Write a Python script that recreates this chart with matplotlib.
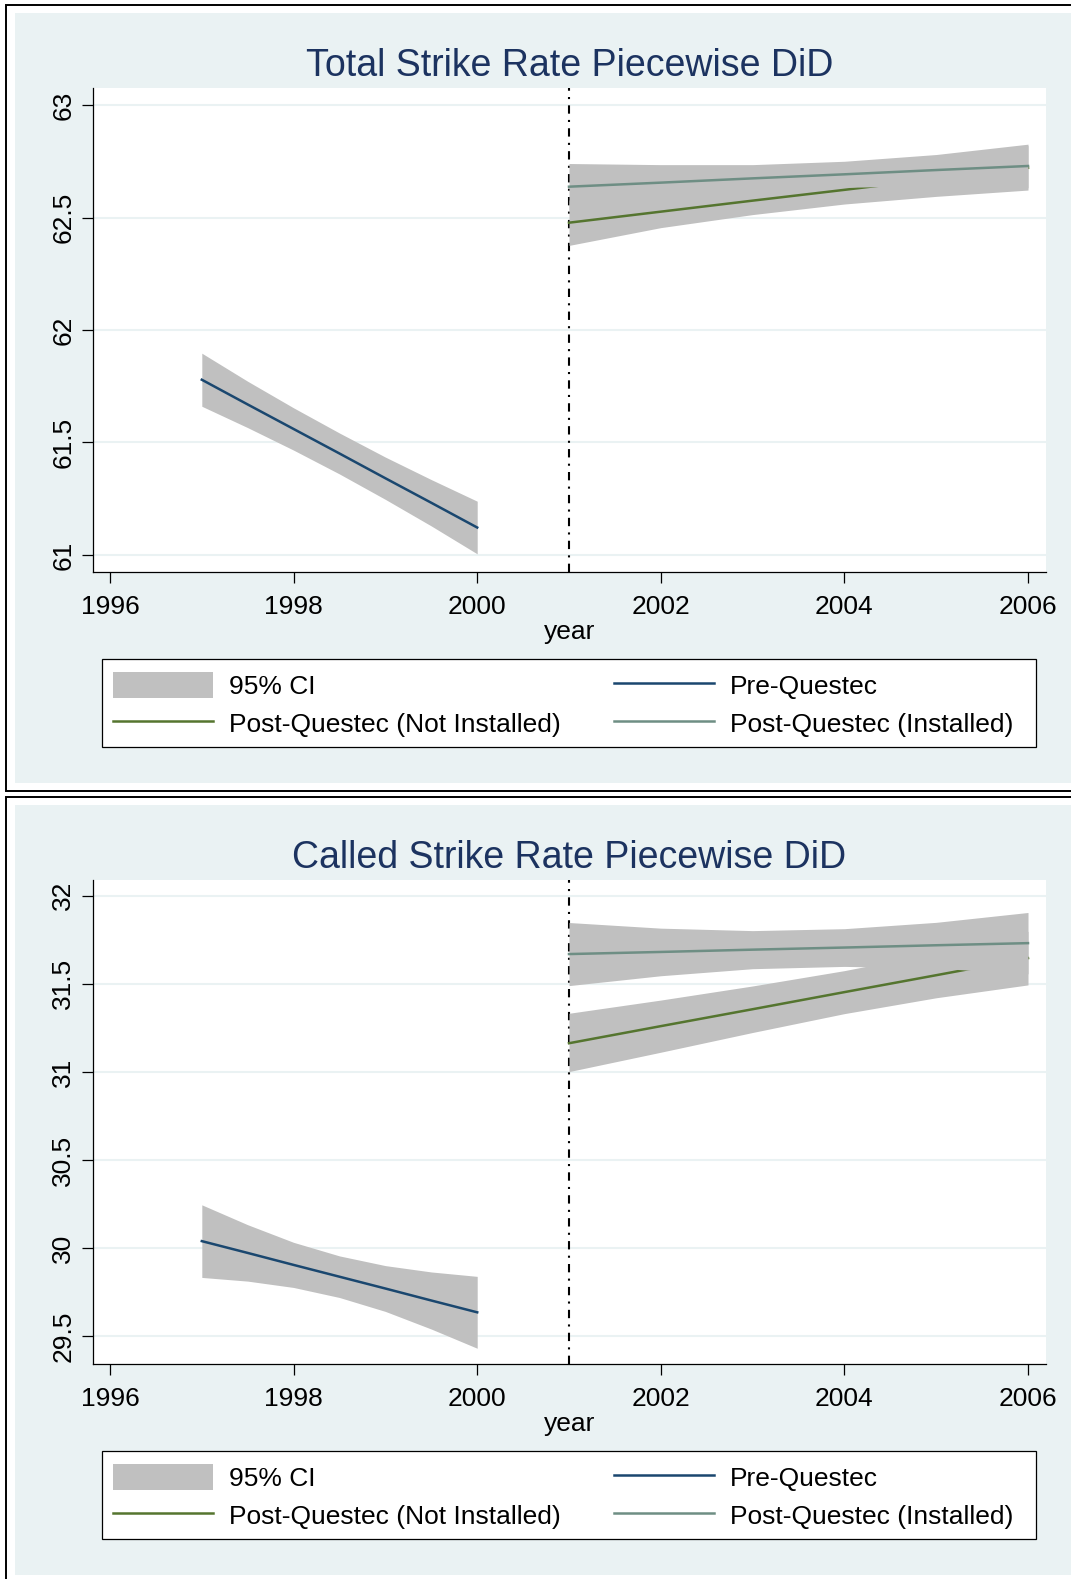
import matplotlib
matplotlib.use("Agg")
import matplotlib.pyplot as plt
from matplotlib.patches import Rectangle, Patch
from matplotlib.lines import Line2D

# values
years_pre = [1997, 1997.5, 1998, 1998.5, 1999, 1999.5, 2000]
years_post = [2001, 2002, 2003, 2004, 2005, 2006]

total_pre = [61.779, 61.669, 61.560, 61.451, 61.341, 61.232, 61.122]
total_pre_hi = [61.897, 61.772, 61.654, 61.542, 61.435, 61.335, 61.239]
total_pre_lo = [61.661, 61.566, 61.466, 61.360, 61.247, 61.129, 61.005]
total_not = [62.477, 62.526, 62.575, 62.623, 62.672, 62.721]
total_not_hi = [62.578, 62.597, 62.637, 62.686, 62.750, 62.820]
total_not_lo = [62.376, 62.455, 62.513, 62.560, 62.594, 62.622]
total_ins = [62.637, 62.655, 62.674, 62.692, 62.711, 62.729]
total_ins_hi = [62.740, 62.735, 62.735, 62.750, 62.780, 62.826]
total_ins_lo = [62.534, 62.575, 62.613, 62.634, 62.642, 62.632]

called_pre = [30.040, 29.973, 29.905, 29.838, 29.771, 29.703, 29.636]
called_pre_hi = [30.246, 30.133, 30.033, 29.956, 29.901, 29.865, 29.840]
called_pre_lo = [29.834, 29.813, 29.777, 29.720, 29.641, 29.541, 29.432]
called_not = [31.163, 31.260, 31.356, 31.453, 31.549, 31.646]
called_not_hi = [31.333, 31.408, 31.488, 31.575, 31.677, 31.798]
called_not_lo = [31.002, 31.112, 31.224, 31.331, 31.421, 31.494]
called_ins = [31.669, 31.681, 31.694, 31.706, 31.719, 31.731]
called_ins_hi = [31.848, 31.816, 31.802, 31.813, 31.849, 31.905]
called_ins_lo = [31.490, 31.546, 31.586, 31.599, 31.589, 31.557]

total_yticks = [61, 61.5, 62, 62.5, 63]
total_ylabels = ["61", "61.5", "62", "62.5", "63"]
called_yticks = [29.5, 30, 30.5, 31, 31.5, 32]
called_ylabels = ["29.5", "30", "30.5", "31", "31.5", "32"]
xticks = [1996, 1998, 2000, 2002, 2004, 2006]
legend_labels = ["95% CI", "Post-Questec (Not Installed)", "Pre-Questec", "Post-Questec (Installed)"]

W, H = 1071, 1579
BG = "#eaf2f3"
CI = "#c0c0c0"
NAVY = "#1a476f"
GREEN = "#55752f"
TEAL = "#6e8e84"
TITLE = "#1c3360"
LW = 1.8

plt.rcParams['font.family'] = ['Liberation Sans', 'DejaVu Sans']


def fx(x):
    return x / W


def fy(y):
    return 1 - y / H


def box(x0, y0, x1, y1, **kw):
    # rectangle given in pixels from the top-left corner
    return Rectangle((fx(x0), fy(y1)), fx(x1) - fx(x0), fy(y0) - fy(y1),
                     transform=fig.transFigure, **kw)


fig = plt.figure(figsize=(W / 100, H / 100), dpi=100)


def draw_panel(dy, title, ylim, yticks, ylabels, pre, pre_lo, pre_hi,
               nt, nt_lo, nt_hi, ins, ins_lo, ins_hi, bottom):
    fig.patches.append(box(6, 5 + dy, 1100, bottom, facecolor="white",
                           edgecolor="black", linewidth=1.4, zorder=-3))
    fig.patches.append(box(15, 13 + dy, 1100, bottom - 8, facecolor=BG,
                           edgecolor="none", zorder=-2))
    # legend frame (Stata leaves more room on the right than on the left)
    fig.patches.append(box(102, 659 + dy, 1036, 747 + dy, facecolor="white",
                           edgecolor="black", linewidth=0.9, zorder=-1))

    ax = fig.add_axes([fx(93.3), fy(572.3 + dy), fx(1046) - fx(93.3), fy(87.7) - fy(572.3)])
    ax.set_facecolor("white")
    ax.set_xlim(1995.818, 2006.196)
    ax.set_ylim(*ylim)

    ax.axvline(2001, color="black", lw=1.5, linestyle=(0, (4, 3, 1, 3)), zorder=1)

    ax.fill_between(years_pre, pre_lo, pre_hi, color=CI, lw=0, zorder=2)
    ax.plot(years_pre, pre, color=NAVY, lw=LW, zorder=3)
    ax.fill_between(years_post, nt_lo, nt_hi, color=CI, lw=0, zorder=4)
    ax.plot(years_post, nt, color=GREEN, lw=LW, zorder=5)
    ax.fill_between(years_post, ins_lo, ins_hi, color=CI, lw=0, zorder=6)
    ax.plot(years_post, ins, color=TEAL, lw=LW, zorder=7)

    ax.set_yticks(yticks)
    ax.set_yticklabels(ylabels, rotation=90, va="center")
    ax.set_xticks(xticks)
    ax.grid(axis="y", color=BG, lw=1.5, zorder=0)
    ax.set_axisbelow(True)
    for s in ["top", "right"]:
        ax.spines[s].set_visible(False)
    for s in ["left", "bottom"]:
        ax.spines[s].set_linewidth(0.9)
    ax.tick_params(length=8, width=0.9, labelsize=19, color="black")
    ax.tick_params(axis="y", pad=5)
    ax.tick_params(axis="x", pad=8.5)

    ax.set_xlabel("year", fontsize=19, va="center")
    ax.xaxis.set_label_coords(0.5, -(632 - 572.3) / 484.6)

    fig.text(fx(569.5), fy(66.5 + dy), title, fontsize=27, color=TITLE,
             ha="center", va="center")

    handles = [Patch(facecolor=CI, edgecolor="none"),
               Line2D([], [], color=GREEN, lw=LW),
               Line2D([], [], color=NAVY, lw=LW),
               Line2D([], [], color=TEAL, lw=LW)]
    ax.legend(handles, legend_labels, ncol=2, loc="center",
              bbox_to_anchor=(fx(102), fy(748.5 + dy), fx(1024) - fx(102), fy(660.5) - fy(748.5)),
              bbox_transform=fig.transFigure, mode="expand", borderaxespad=0,
              frameon=False, fontsize=19,
              handlelength=3.8, handleheight=1.1, handletextpad=0.6,
              labelspacing=0.41, borderpad=0.4)
    return ax


draw_panel(0, "Total Strike Rate Piecewise DiD", (60.923, 63.077),
           total_yticks, total_ylabels, total_pre, total_pre_lo, total_pre_hi,
           total_not, total_not_lo, total_not_hi, total_ins, total_ins_lo, total_ins_hi,
           791)
draw_panel(792, "Called Strike Rate Piecewise DiD", (29.341, 32.091),
           called_yticks, called_ylabels, called_pre, called_pre_lo, called_pre_hi,
           called_not, called_not_lo, called_not_hi, called_ins, called_ins_lo, called_ins_hi,
           1583)

fig.savefig("out.png", dpi=100, facecolor="white")
